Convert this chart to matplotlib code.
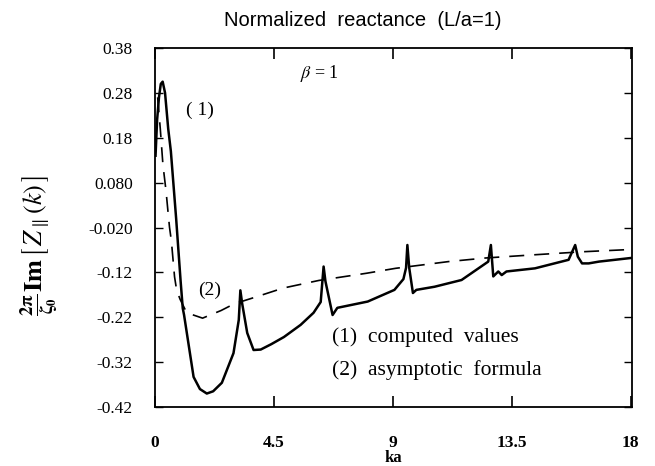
import matplotlib
matplotlib.use("Agg")
import matplotlib.pyplot as plt

plt.rcParams["mathtext.fontset"] = "stix"

# ---- data ----
ka_computed = [0.02, 0.08, 0.15, 0.22, 0.29, 0.38, 0.5, 0.6, 0.8, 0.97, 1.05, 1.1, 1.46, 1.7,
               1.96, 2.2, 2.53, 2.97, 3.17, 3.23, 3.3, 3.49, 3.73, 4.0, 4.4, 4.88, 5.51, 6.0,
               6.27, 6.38, 6.45, 6.72, 6.9, 8.05, 9.06, 9.4, 9.5, 9.55, 9.62, 9.76, 9.89,
               10.58, 11.6, 12.61, 12.71, 12.8, 12.99, 13.12, 13.3, 14.38, 15.65, 15.9, 16.0,
               16.16, 16.41, 16.8, 18.0]
im_computed = [0.14, 0.22, 0.27, 0.30, 0.305, 0.28, 0.20, 0.15, 0.0, -0.14, -0.20, -0.215,
               -0.353, -0.38, -0.39, -0.385, -0.366, -0.30, -0.226, -0.16, -0.19, -0.255,
               -0.293, -0.292, -0.28, -0.264, -0.237, -0.21, -0.186, -0.107, -0.14, -0.215,
               -0.199, -0.185, -0.159, -0.135, -0.11, -0.059, -0.11, -0.166, -0.159, -0.152,
               -0.137, -0.096, -0.059, -0.129, -0.118, -0.126, -0.118, -0.111, -0.092,
               -0.059, -0.085, -0.10, -0.10, -0.096, -0.088]

ka_asym = [0.1, 0.2, 0.3, 0.42, 0.5, 0.55, 0.62, 0.68, 0.74, 0.82, 0.95, 1.2, 1.8, 2.5, 3.0,
           3.7, 4.85, 6.2, 8.0, 9.1, 11.1, 12.5, 14.3, 16.2, 18.0]
im_asym = [0.27, 0.20, 0.12, 0.06, 0.01, -0.02, -0.05, -0.09, -0.13, -0.16, -0.18, -0.21,
           -0.222, -0.205, -0.19, -0.177, -0.155, -0.138, -0.122, -0.111, -0.096, -0.088,
           -0.081, -0.074, -0.069]

x_ticks = [0, 4.5, 9, 13.5, 18]
x_tick_labels = ["0", "4.5", "9", "13.5", "18"]
y_ticks = [0.38, 0.28, 0.18, 0.08, -0.02, -0.12, -0.22, -0.32, -0.42]
y_tick_labels = ["0.38", "0.28", "0.18", "0.080", "-0.020", "-0.12", "-0.22", "-0.32", "-0.42"]

title = "Normalized  reactance  (L/a=1)"
legend_lines = ["(1)  computed  values", "(2)  asymptotic  formula"]

fig = plt.figure(figsize=(6.55, 4.66), dpi=100)
ax = fig.add_axes([155/655, 1-407/466, (632-155)/655, (407-48)/466])

ax.plot(ka_computed, im_computed, color="black", lw=1.8, solid_joinstyle="round")
ax.plot(ka_asym, im_asym, color="black", lw=1.2, dashes=(9, 6))

ax.set_xlim(0, 18.05)
ax.set_ylim(-0.42, 0.38)

serif = "Liberation Serif"
ax.set_xticks(x_ticks)
ax.set_xticklabels(x_tick_labels, fontfamily=serif, fontsize=12.5, fontweight="bold")
ax.set_yticks(y_ticks)
ax.set_yticklabels(y_tick_labels, fontfamily=serif, fontsize=12.5)
ax.tick_params(axis="x", direction="in", length=8, width=1.2, pad=20, top=True)
ax.tick_params(axis="y", direction="in", length=6, width=1.0, pad=16, right=True)
for s in ax.spines.values():
    s.set_linewidth(1.3)

fig.text(393/655, 1-458/466, "ka", ha="center", va="center",
         fontfamily=serif, fontsize=12, fontweight="bold")

fig.text(363/655, 1-20/466, title, ha="center", va="center",
         fontfamily="Liberation Sans", fontsize=14.5)
fig.text(40/655, 1-245/466,
         r"$\mathbf{\frac{2\pi}{\zeta_0}Im}\,\left[\,\mathbf{\mathit{Z}}_{\parallel}(\mathbf{\mathit{k}})\,\right]$",
         rotation=90, ha="center", va="center", fontsize=19)

ax.text(6.24, 0.324, r"$\beta$ = 1", fontfamily=serif, fontsize=13, ha="center", va="center")
ax.text(1.70, 0.242, "( 1)", fontfamily=serif, fontsize=14, ha="center", va="center")
ax.text(2.08, -0.159, "(2)", fontfamily=serif, fontsize=14, ha="center", va="center")
ax.text(6.68, -0.265, legend_lines[0], fontfamily=serif, fontsize=15.5, ha="left", va="center")
ax.text(6.68, -0.337, legend_lines[1], fontfamily=serif, fontsize=15.5, ha="left", va="center")

fig.savefig("out.png", dpi=100)
